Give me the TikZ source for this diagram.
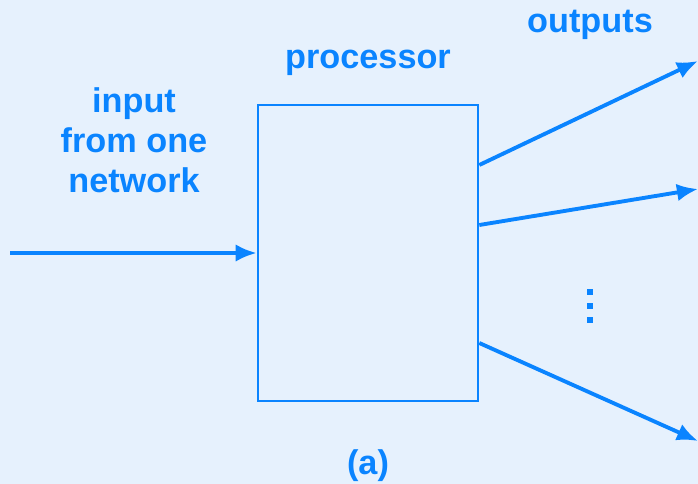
\documentclass[tikz,border=0pt]{standalone}
\usepackage{fontspec}
\setmainfont{Liberation Sans}
\usetikzlibrary{
    arrows.meta,
    positioning,
    calc
}
\definecolor{procblue}{HTML}{0A84FF}
\definecolor{bgblue}{HTML}{E6F1FD}

\begin{document}
\begin{tikzpicture}[
    x=0.02cm,
    y=-0.02cm,
    every node/.style={
        font=\fontsize{19.5pt}{22.7pt}\selectfont\bfseries,
        text=procblue
    },
    procbox/.style={
        rectangle,
        draw=procblue,
        line width=1.5pt,
        minimum width=4.4cm,
        minimum height=5.92cm
    },
    label/.style={
        align=center,
        inner sep=0pt
    },
    flowarrow/.style={
        -{Latex[length=12pt,width=10pt]},
        line width=2.2pt,
        draw=procblue
    }
]

% background
\fill[bgblue] (0,0) rectangle (698,484);
\useasboundingbox (0,0) rectangle (698,484);

% ==========================================================
% Processor
% ==========================================================
\node[procbox] (proc) at (368,253) {};

\node[label] (proctitle) at (368,63) {processor};

\node[label] (caption) at (368,466) {(a)};

% ==========================================================
% Input side
% ==========================================================
\node[label] (intitle) at (134,140) {input\\from one\\network};

\coordinate (src) at (10,253);

\draw[flowarrow]
    (src)
    --
    (proc.west);

% ==========================================================
% Output side
% ==========================================================
\node[label] (outtitle) at (590,25) {outputs};

\coordinate (out1) at (698,61);
\coordinate (out2) at (698,189);
\coordinate (out3) at (698,441);

\draw[flowarrow] ($(proc.east)+(0,-88)$) -- (out1);
\draw[flowarrow] ($(proc.east)+(0,-28)$) -- (out2);
\draw[flowarrow] ($(proc.east)+(0,90)$) -- (out3);

% more outputs
\foreach \dy in {292,306,320}
    \fill[procblue] (587,\dy-3) rectangle (593,\dy+3);

\end{tikzpicture}
\end{document}
